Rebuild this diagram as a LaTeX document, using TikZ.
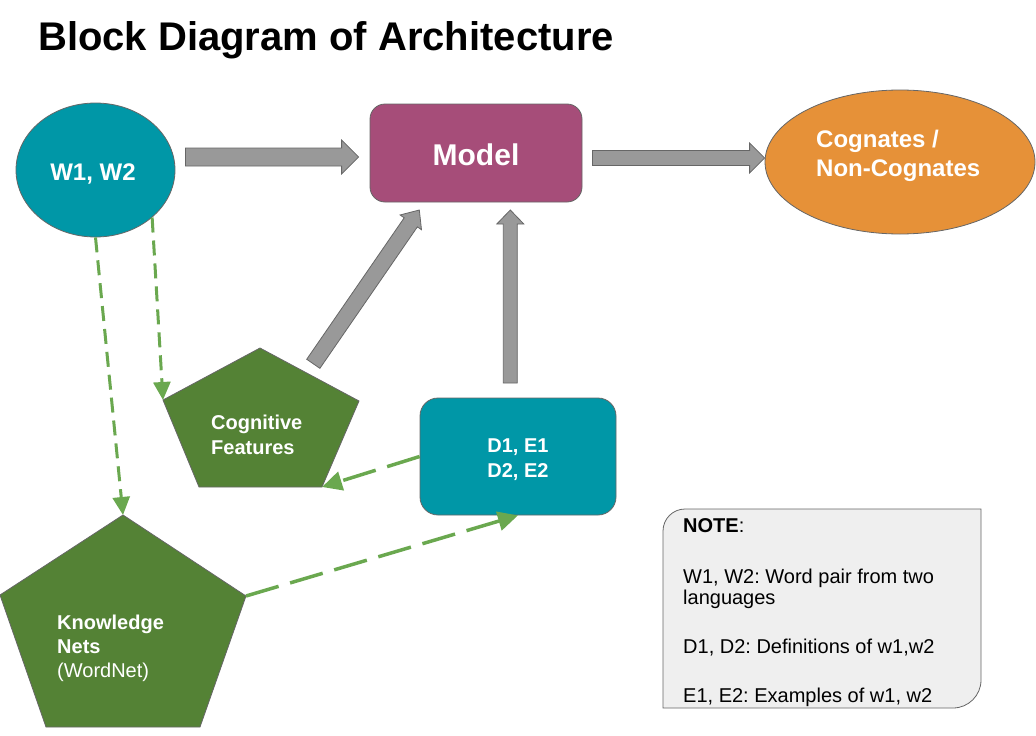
\documentclass[tikz,border=0pt]{standalone}
\usepackage{fontspec}
\setmainfont{Liberation Sans}
\frenchspacing
\usetikzlibrary{shapes.geometric,arrows.meta,calc}
\definecolor{teal1}{HTML}{0097A7}
\definecolor{modelc}{HTML}{A64D79}
\definecolor{orange1}{HTML}{E69138}
\definecolor{dkgreen}{HTML}{548235}
\definecolor{ltgreen}{HTML}{6AA84F}
\definecolor{arrowgrey}{HTML}{999999}
\definecolor{edgegrey}{HTML}{666666}
\definecolor{notefill}{HTML}{EFEFEF}
\newcommand\fsz[2]{\fontsize{#1}{#2}\selectfont}
\newcommand\blockarrow[5]{%
  \coordinate (ba-h) at ($(#2)!#5!(#1)$);
  \draw[blockarrowstyle] ($(#1)!#3!90:(#2)$) -- ($(ba-h)!#3!90:(#2)$) -- ($(ba-h)!#4!90:(#2)$) -- (#2)
     -- ($(ba-h)!#4!-90:(#2)$) -- ($(ba-h)!#3!-90:(#2)$) -- ($(#1)!#3!-90:(#2)$) -- cycle;}
\begin{document}
\begin{tikzpicture}[x=1pt,y=-1pt,
  shapeborder/.style={draw=edgegrey, line width=0.8pt},
  blockarrowstyle/.style={fill=arrowgrey, draw=edgegrey, line width=0.8pt},
  dashshort/.style={draw=ltgreen, line width=3pt, dash pattern=on 15pt off 8pt, -{Triangle[length=18pt,width=17pt]}},
  dashlong/.style={draw=ltgreen, line width=3.5pt, dash pattern=on 34pt off 12pt, -{Triangle[length=20pt,width=19pt]}},
  boldlabel/.style={text=white, inner sep=0pt, font=\fsz{20}{24}\bfseries},
  notetext/.style={anchor=base west, inner sep=0pt, font=\fsz{20}{23}},
]
\useasboundingbox (0,0) rectangle (1036,736);

% title
\node[anchor=base west, inner sep=0pt, font=\fsz{40}{48}\bfseries] (title) at (38,50) {Block Diagram of Architecture};

% main shapes
\node[ellipse, shapeborder, fill=teal1, minimum width=159pt, minimum height=134pt, inner sep=0pt] (w) at (95.5,170) {};
\node[anchor=base, text=white, inner sep=0pt, font=\fsz{24}{29}\bfseries] (wt) at (93,180.5) {W1, W2};

\node[rectangle, rounded corners=15pt, shapeborder, fill=modelc, minimum width=212pt, minimum height=98pt, inner sep=0pt] (m) at (476,153) {};
\node[anchor=base, text=white, inner sep=0pt, font=\fsz{30}{36}\bfseries] (mt) at (476,165.5) {Model};

\node[ellipse, shapeborder, fill=orange1, minimum width=270pt, minimum height=144pt, inner sep=0pt] (c) at (900,162) {};
\node[anchor=base west, text=white, inner sep=0pt, font=\fsz{24}{29}\bfseries] (ct1) at (816,147) {Cognates /};
\node[anchor=base west, text=white, inner sep=0pt, font=\fsz{24}{29}\bfseries] (ct2) at (816,176) {Non-Cognates};

% cognitive features pentagon
\coordinate (cf-t) at (260,348);
\coordinate (cf-l) at (163,400);
\coordinate (cf-r) at (359,401);
\coordinate (cf-bl) at (199,487);
\coordinate (cf-br) at (322,487);
\draw[shapeborder, fill=dkgreen] (cf-t) -- (cf-r) -- (cf-br) -- (cf-bl) -- (cf-l) -- cycle;
\node[boldlabel, anchor=base west] (cft1) at (211,429) {Cognitive};
\node[boldlabel, anchor=base west] (cft2) at (211,454) {Features};

% knowledge nets pentagon
\coordinate (kn-t) at (123,515);
\coordinate (kn-l) at (0,595);
\coordinate (kn-r) at (246,596);
\coordinate (kn-bl) at (46,727);
\coordinate (kn-br) at (200,727);
\draw[shapeborder, fill=dkgreen] (kn-t) -- (kn-r) -- (kn-br) -- (kn-bl) -- (kn-l) -- cycle;
\node[boldlabel, anchor=base west] (knt1) at (57,629) {Knowledge};
\node[boldlabel, anchor=base west] (knt2) at (57,653) {Nets};
\node[text=white, inner sep=0pt, font=\fsz{20}{24}, anchor=base west] (knt3) at (57,677) {(WordNet)};

% D/E box
\node[rectangle, rounded corners=18pt, shapeborder, fill=teal1, minimum width=196pt, minimum height=117pt, inner sep=0pt] (d) at (518,456.5) {};
\node[boldlabel, anchor=base] (dt1) at (518,452) {D1, E1};
\node[boldlabel, anchor=base] (dt2) at (518,477) {D2, E2};

% block arrows
\coordinate (a1s) at ($(w.east)+(10,-13)$);
\coordinate (a1e) at ($(m.west)+(-11,4)$);
\coordinate (a2s) at ($(m.east)+(10,5)$);
\coordinate (a2e) at ($(c.west)+(0,-4)$);
\coordinate (a3s) at (313.3,363.8);
\coordinate (a3e) at (419.3,210);
\coordinate (a4s) at (510.3,383);
\coordinate (a4e) at (510.3,210);
\blockarrow{a1s}{a1e}{9pt}{17pt}{17pt}
\blockarrow{a2s}{a2e}{7.5pt}{15pt}{15pt}
\blockarrow{a3s}{a3e}{8pt}{13pt}{15pt}
\blockarrow{a4s}{a4e}{7pt}{13.5pt}{14pt}

% dashed connectors
\draw[dashshort] (w.south) -- (kn-t);
\draw[dashshort] (w.-40) -- (cf-l);
\draw[dashlong] (d.west) -- (cf-br);
\draw[dashlong] (kn-r) -- (d.south);

% note
\draw[draw=edgegrey, line width=0.8pt, fill=notefill]
  (663,600) [rounded corners=22pt] -- (663,509) -- (800,509) [sharp corners] -- (981,509) -- (981,600)
  [rounded corners=28pt] -- (981,708) -- (800,708) [sharp corners] -- (663,708) -- cycle;
\node[notetext] (n1) at (683,532) {\textbf{NOTE}:};
\node[notetext] (n2) at (683,583) {W1, W2: Word pair from two};
\node[notetext] (n3) at (683,604) {languages};
\node[notetext] (n4) at (683,653) {D1, D2: Definitions of w1,w2};
\node[notetext] (n5) at (683,702) {E1, E2: Examples of w1, w2};
\end{tikzpicture}
\end{document}
